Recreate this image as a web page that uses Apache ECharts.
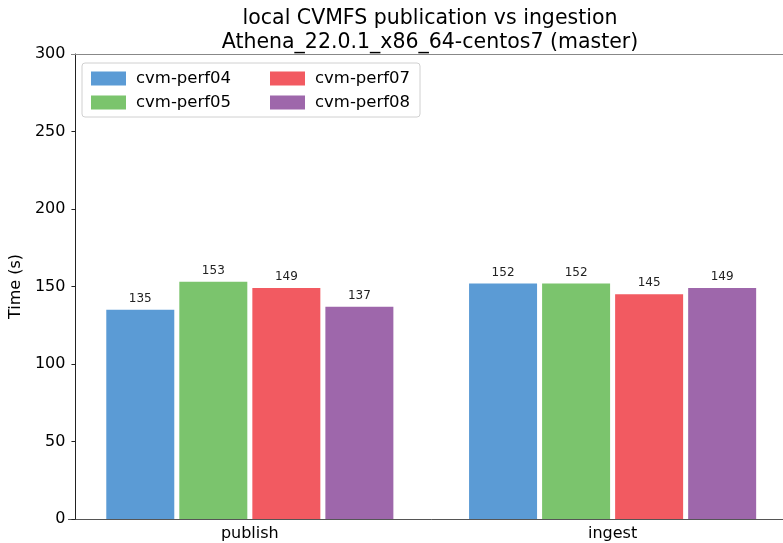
<!DOCTYPE html>
<html><head><meta charset="utf-8">
<script src="https://cdn.jsdelivr.net/npm/echarts@6/dist/echarts.min.js"></script>
<style>html,body{margin:0;padding:0;background:#fff;overflow:hidden;width:783px;height:543px}#c{width:794px;height:543px}</style>
</head><body><div id="c"></div>
<script>
const categories = ['publish', 'ingest'];
const seriesNames = ['cvm-perf04', 'cvm-perf05', 'cvm-perf07', 'cvm-perf08'];
const perf04 = [135, 152];
const perf05 = [153, 152];
const perf07 = [149, 145];
const perf08 = [137, 149];
const yTicks = [0, 50, 100, 150, 200, 250, 300];
const colors = ['#5b9bd5', '#7bc46d', '#f25a61', '#9e67ab'];
const values = [perf04, perf05, perf07, perf08];
const F = 'DejaVu Sans';

const chart = echarts.init(document.getElementById('c'));
chart.setOption({
  animation: false,
  textStyle: {fontFamily: F},
  title: {
    text: 'local CVMFS publication vs ingestion\nAthena_22.0.1_x86_64-centos7 (master)',
    left: 425, top: 2, textAlign: 'center',
    textStyle: {fontFamily: F, fontSize: 20.5, fontWeight: 'normal', color: '#000', lineHeight: 24}
  },
  grid: {left: 65, right: 0, top: 54, bottom: 24, containLabel: false},
  xAxis: {
    type: 'category', data: categories,
    axisLine: {lineStyle: {color: '#555', width: 1}},
    axisTick: {alignWithLabel: true, length: 4, lineStyle: {color: '#333'}},
    axisLabel: {fontSize: 16, color: '#000', margin: 7, fontFamily: F}
  },
  yAxis: {
    type: 'value', min: 0, max: 300, interval: 50, offset: -7,
    name: 'Time (s)', nameLocation: 'middle', nameGap: 46,
    nameTextStyle: {fontSize: 16, color: '#000', fontFamily: F},
    axisLine: {show: true, lineStyle: {color: '#222', width: 1}},
    axisTick: {show: true, length: 4, lineStyle: {color: '#222'}},
    axisLabel: {fontSize: 16, color: '#000', margin: 10, fontFamily: F,
      formatter: v => yTicks.includes(v) ? String(v) : ''},
    splitLine: {show: false}
  },
  legend: [
    {orient: 'vertical', left: 86, top: 65, itemWidth: 35, itemHeight: 14, itemGap: 7, icon: 'rect',
     data: [seriesNames[0], seriesNames[1]],
     textStyle: {fontSize: 16.5, color: '#000', fontFamily: F, padding: [0,0,0,5]}},
    {orient: 'vertical', left: 265, top: 65, itemWidth: 35, itemHeight: 14, itemGap: 7, icon: 'rect',
     data: [seriesNames[2], seriesNames[3]],
     textStyle: {fontSize: 16.5, color: '#000', fontFamily: F, padding: [0,0,0,5]}}
  ],
  graphic: [
    {type: 'rect', shape: {x: 82, y: 63, width: 338, height: 54, r: 3}, z: 0,
     style: {fill: 'rgba(255,255,255,0.8)', stroke: '#d0d0d0', lineWidth: 1}},
    {type: 'line', shape: {x1: 72, y1: 54.5, x2: 794, y2: 54.5}, z: 10,
     style: {stroke: '#888', lineWidth: 1}}
  ],
  series: seriesNames.map((n, i) => ({
    name: n, type: 'bar', data: values[i], barWidth: 68, barGap: '7.4%',
    itemStyle: {color: colors[i]},
    label: {show: true, position: 'top', distance: 5, fontSize: 12, color: '#222', fontFamily: F}
  }))
});
</script></body></html>
